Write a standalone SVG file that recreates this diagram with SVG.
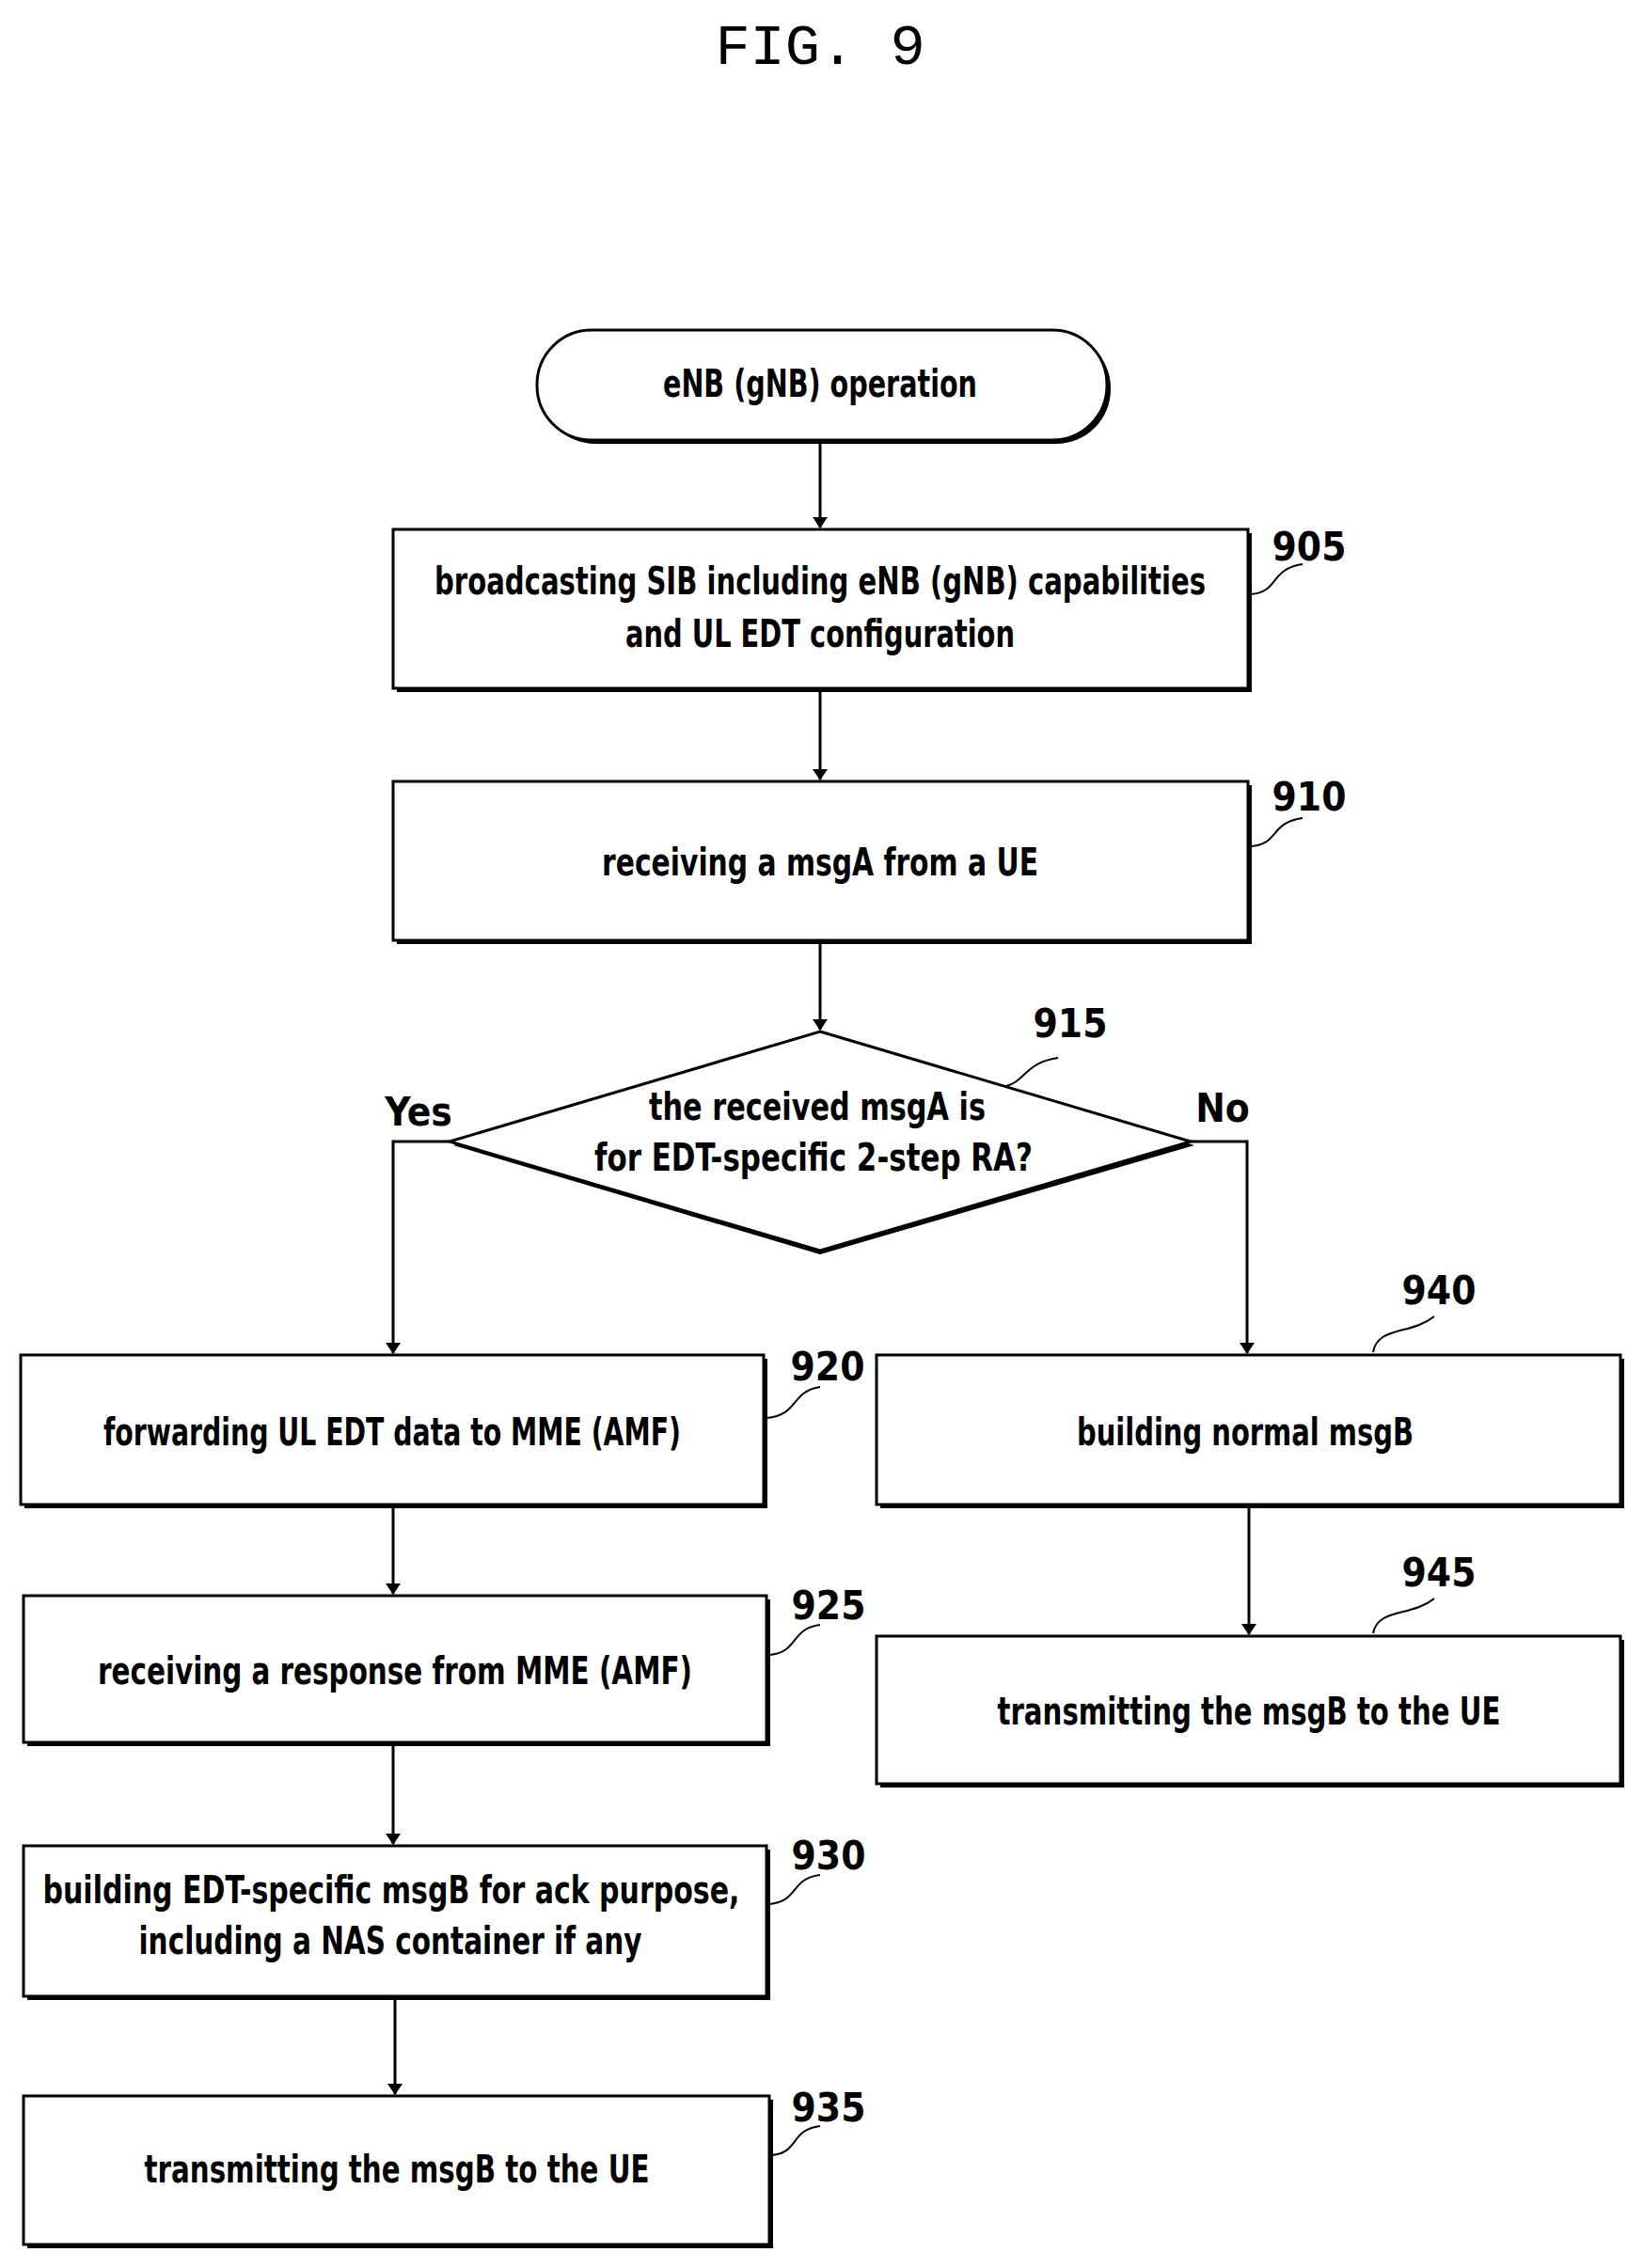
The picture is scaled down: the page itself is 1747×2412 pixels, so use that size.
<svg xmlns="http://www.w3.org/2000/svg" width="1747" height="2412" viewBox="0 0 1747 2412">
<style>
.t{font-family:"DejaVu Sans Condensed","Liberation Sans",sans-serif;font-weight:bold;font-size:40px;text-anchor:middle;fill:#000}
.l{font-family:"DejaVu Sans Condensed","Liberation Sans",sans-serif;font-weight:bold;font-size:42px;text-anchor:middle;fill:#000}
.b{fill:#fff;stroke:#000;stroke-width:3}
.s{fill:#000}
.c{fill:none;stroke:#000;stroke-width:3}
.ld{fill:none;stroke:#000;stroke-width:2}
</style>
<defs><marker id="a" markerWidth="12" markerHeight="16" refX="11" refY="8" orient="auto" markerUnits="userSpaceOnUse"><path d="M0,0 L12,8 L0,16 z" fill="#000"/></marker></defs>
<rect width="1747" height="2412" fill="#fff"/>
<text x="872" y="68" font-family="Liberation Mono, monospace" font-size="62" text-anchor="middle">FIG. 9</text>
<g id="connectors">
<path class="c" d="M872,468 V561" marker-end="url(#a)"/>
<path class="c" d="M872,732 V829" marker-end="url(#a)"/>
<path class="c" d="M872,1000 V1095" marker-end="url(#a)"/>
<path class="c" d="M478,1214 H418 V1439" marker-end="url(#a)"/>
<path class="c" d="M1266,1214 H1326 V1439" marker-end="url(#a)"/>
<path class="c" d="M418,1600 V1695" marker-end="url(#a)"/>
<path class="c" d="M418,1853 V1961" marker-end="url(#a)"/>
<path class="c" d="M420,2123 V2227" marker-end="url(#a)"/>
<path class="c" d="M1328,1600 V1738" marker-end="url(#a)"/>
<text class="l" x="445" y="1197">Yes</text>
<text class="l" x="1300" y="1193">No</text>
</g>
<g id="start"><rect class="s" x="575" y="355" width="606" height="117" rx="58"/><rect class="b" x="571" y="351" width="606" height="117" rx="58"/><text class="t" x="872" y="422" textLength="334" lengthAdjust="spacingAndGlyphs">eNB (gNB) operation</text></g>
<g id="n905"><rect class="s" x="422" y="567" width="909" height="169"/><rect class="b" x="418" y="563" width="909" height="169"/><text class="t" x="872" y="632" textLength="820" lengthAdjust="spacingAndGlyphs">broadcasting SIB including eNB (gNB) capabilities</text><text class="t" x="872" y="688" textLength="414" lengthAdjust="spacingAndGlyphs">and UL EDT configuration</text><path class="ld" d="M1330,632 C1360,630 1350,605 1385,600"/><text class="l" x="1392" y="596">905</text></g>
<g id="n910"><rect class="s" x="422" y="835" width="909" height="169"/><rect class="b" x="418" y="831" width="909" height="169"/><text class="t" x="872" y="931" textLength="464" lengthAdjust="spacingAndGlyphs">receiving a msgA from a UE</text><path class="ld" d="M1330,900 C1360,898 1350,875 1385,870"/><text class="l" x="1392" y="862">910</text></g>
<g id="n915"><path class="s" d="M872,1101 L1270,1218 L872,1334 L482,1218 z"/><path class="b" d="M872,1097 L1266,1214 L872,1330 L478,1214 z"/><text class="t" x="869" y="1191" textLength="358" lengthAdjust="spacingAndGlyphs">the received msgA is</text><text class="t" x="865" y="1245" textLength="466" lengthAdjust="spacingAndGlyphs">for EDT-specific 2-step RA?</text><path class="ld" d="M1070,1155 C1090,1150 1090,1130 1125,1125"/><text class="l" x="1138" y="1103">915</text></g>
<g id="n920"><rect class="s" x="26" y="1445" width="790" height="159"/><rect class="b" x="22" y="1441" width="790" height="159"/><text class="t" x="417" y="1537" textLength="614" lengthAdjust="spacingAndGlyphs">forwarding UL EDT data to MME (AMF)</text><path class="ld" d="M815,1508 C850,1505 840,1480 872,1475"/><text class="l" x="880" y="1468">920</text></g>
<g id="n925"><rect class="s" x="29" y="1701" width="790" height="156"/><rect class="b" x="25" y="1697" width="790" height="156"/><text class="t" x="420" y="1791" textLength="632" lengthAdjust="spacingAndGlyphs">receiving a response from MME (AMF)</text><path class="ld" d="M818,1760 C850,1757 840,1732 872,1728"/><text class="l" x="881" y="1722">925</text></g>
<g id="n930"><rect class="s" x="29" y="1967" width="790" height="160"/><rect class="b" x="25" y="1963" width="790" height="160"/><text class="t" x="416" y="2024" textLength="741" lengthAdjust="spacingAndGlyphs">building EDT-specific msgB for ack purpose,</text><text class="t" x="415" y="2078" textLength="535" lengthAdjust="spacingAndGlyphs">including a NAS container if any</text><path class="ld" d="M818,2025 C850,2022 840,1998 872,1994"/><text class="l" x="881" y="1988">930</text></g>
<g id="n935"><rect class="s" x="29" y="2233" width="793" height="158"/><rect class="b" x="25" y="2229" width="793" height="158"/><text class="t" x="422" y="2321" textLength="537" lengthAdjust="spacingAndGlyphs">transmitting the msgB to the UE</text><path class="ld" d="M821,2292 C850,2289 840,2265 872,2261"/><text class="l" x="881" y="2256">935</text></g>
<g id="n940"><rect class="s" x="936" y="1445" width="791" height="159"/><rect class="b" x="932" y="1441" width="791" height="159"/><text class="t" x="1324" y="1537" textLength="358" lengthAdjust="spacingAndGlyphs">building normal msgB</text><path class="ld" d="M1460,1438 C1465,1410 1500,1420 1525,1400"/><text class="l" x="1530" y="1387">940</text></g>
<g id="n945"><rect class="s" x="936" y="1744" width="791" height="157"/><rect class="b" x="932" y="1740" width="791" height="157"/><text class="t" x="1328" y="1834" textLength="535" lengthAdjust="spacingAndGlyphs">transmitting the msgB to the UE</text><path class="ld" d="M1460,1737 C1465,1710 1500,1720 1525,1700"/><text class="l" x="1530" y="1687">945</text></g>
</svg>
